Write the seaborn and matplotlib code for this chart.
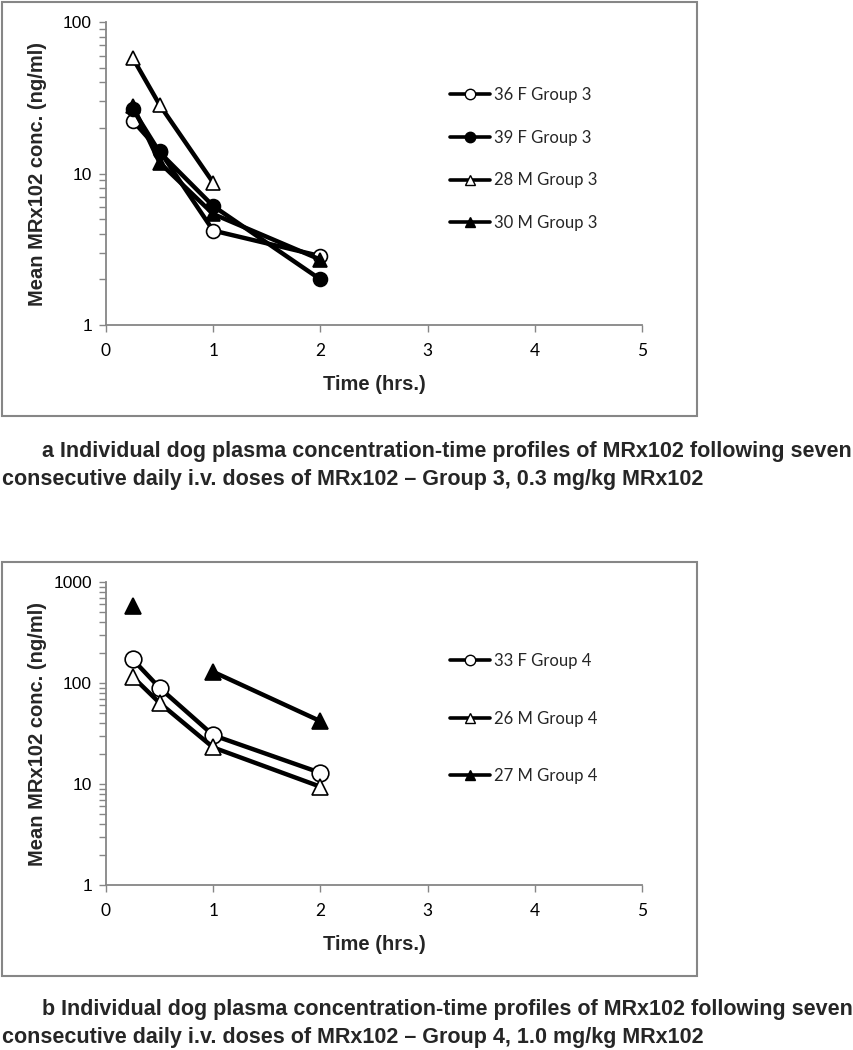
import numpy as np
import pandas as pd
import matplotlib
matplotlib.use("Agg")
import matplotlib.pyplot as plt
from matplotlib.lines import Line2D
from matplotlib.patches import Rectangle
from matplotlib import font_manager
import seaborn as sns

# ---------------- data ----------------
time_hrs = [0.25, 0.5, 1.0, 2.0]

g3_labels = ["36 F Group 3", "39 F Group 3", "28 M Group 3", "30 M Group 3"]
g3_36F = [22.3, 14.1, 4.2, 2.85]
g3_39F = [26.6, 13.8, 6.1, 2.0]
g3_28M = [57.8, 28.4, 8.7, np.nan]
g3_30M = [28.0, 11.8, 5.4, 2.7]

g4_labels = ["33 F Group 4", "26 M Group 4", "27 M Group 4"]
g4_33F = [171, 89.5, 30.4, 12.9]
g4_26M = [115, 63.5, 23.0, 9.4]
g4_27M = [579, np.nan, 129, 41.9]

x_ticks = [0, 1, 2, 3, 4, 5]
g3_yticks = [1, 10, 100]
g4_yticks = [1, 10, 100, 1000]

y_label = "Mean MRx102 conc. (ng/ml)"
x_label = "Time (hrs.)"
caption_a = ["a Individual dog plasma concentration-time profiles of MRx102 following seven",
             "consecutive daily i.v. doses of MRx102 \u2013 Group 3, 0.3 mg/kg MRx102"]
caption_b = ["b Individual dog plasma concentration-time profiles of MRx102 following seven",
             "consecutive daily i.v. doses of MRx102 \u2013 Group 4, 1.0 mg/kg MRx102"]

# ---------------- style ----------------
sns.set_theme(style="white")
avail = {f.name for f in font_manager.fontManager.ttflist}
narrow = "Liberation Sans Narrow" if "Liberation Sans Narrow" in avail else "Liberation Sans"
cap_size = 17 if narrow == "Liberation Sans Narrow" else 15.5
plt.rcParams["font.family"] = ["Liberation Sans", "DejaVu Sans"]

W, H = 854, 1050
fig = plt.figure(figsize=(W / 100, H / 100), dpi=100)
fig.patch.set_facecolor("white")

GREY = "#868686"


def fx(px):
    return px / W


def fy(py):
    return 1 - py / H


def build_frame(series, names):
    rows = []
    for name, vals in zip(names, series):
        seg = 0
        for t, v in zip(time_hrs, vals):
            if v is None or (isinstance(v, float) and np.isnan(v)):
                seg += 1
                continue
            rows.append({"time": t, "conc": v, "animal": name, "seg": seg})
    return pd.DataFrame(rows)


def draw_panel(top_px, series, names, styles, yticks, ymax, msize, legend_top, legend_gap):
    ax_top = top_px + 21
    ax_bot = ax_top + 303
    ax = fig.add_axes([fx(106), fy(ax_bot), fx(642 - 106), (ax_bot - ax_top) / H])
    df = build_frame(series, names)
    handles = []
    for name, (mk, filled) in zip(names, styles):
        sub = df[df["animal"] == name]
        fc = "black" if filled else "white"
        sns.lineplot(data=sub, x="time", y="conc", units="seg", estimator=None,
                     ax=ax, color="black", linewidth=3.2, marker=mk, markersize=msize,
                     markerfacecolor=fc, markeredgecolor="black", markeredgewidth=1.2,
                     legend=False, sort=False)
        handles.append(Line2D([0], [0], color="black", linewidth=2.6, marker=mk,
                              markersize=7.5, markerfacecolor=fc, markeredgecolor="black",
                              markeredgewidth=1.0))
    ax.set_yscale("log")
    ax.set_xlim(0, 5)
    ax.set_ylim(1, ymax)
    ax.set_xticks(x_ticks)
    ax.set_xticklabels([str(v) for v in x_ticks], fontsize=12.5, family=["Lato", "DejaVu Sans"])
    ax.set_yticks(yticks)
    ax.set_yticklabels([str(v) for v in yticks], fontsize=12.5)
    ax.yaxis.set_minor_locator(matplotlib.ticker.LogLocator(base=10, subs=np.arange(2, 10)))
    ax.yaxis.set_minor_formatter(matplotlib.ticker.NullFormatter())
    ax.set_xlabel("")
    ax.set_ylabel("")
    for s in ["top", "right"]:
        ax.spines[s].set_visible(False)
    for s in ["left", "bottom"]:
        ax.spines[s].set_color(GREY)
        ax.spines[s].set_linewidth(1.3)
    ax.tick_params(axis="both", which="both", direction="out", color=GREY, width=1.0,
                   left=True, bottom=True, labelcolor="black")
    ax.tick_params(axis="y", which="major", length=5, pad=5)
    ax.tick_params(axis="y", which="minor", length=5)
    ax.tick_params(axis="x", which="major", length=5, pad=8)
    ax.set_facecolor("none")
    ax.grid(False)

    # axis titles
    fig.text(fx(38), fy((ax_top + ax_bot) / 2), y_label, rotation=90, ha="center",
             va="center", fontsize=14.5, fontweight="bold")
    fig.text(fx(374), fy(ax_bot + 60), x_label, ha="center", va="center",
             fontsize=14.5, fontweight="bold")

    leg = ax.legend(handles, names, loc="upper left",
                    bbox_to_anchor=(fx(450), fy(legend_top)), bbox_transform=fig.transFigure,
                    frameon=False, fontsize=12, handlelength=2.4, handletextpad=0.25,
                    labelspacing=legend_gap, borderpad=0, borderaxespad=0)
    for t in leg.get_texts():
        t.set_family(["Lato", "DejaVu Sans"])

    # outer chart frame
    fig.patches.append(Rectangle((fx(2), fy(top_px + 415)), fx(695), 414 / H,
                                 transform=fig.transFigure, fill=False,
                                 edgecolor=GREY, linewidth=1.5))
    return ax


draw_panel(1, [g3_36F, g3_39F, g3_28M, g3_30M], g3_labels,
           [("o", False), ("o", True), ("^", False), ("^", True)],
           g3_yticks, 100, 10, 87, 1.6)
draw_panel(561, [g4_33F, g4_26M, g4_27M], g4_labels,
           [("o", False), ("^", False), ("^", True)],
           g4_yticks, 1000, 12, 653, 2.5)

for caps, y0 in [(caption_a, 452), (caption_b, 1010)]:
    fig.text(fx(42), fy(y0), caps[0], ha="left", va="center", fontsize=cap_size,
             fontweight="bold", family=[narrow, "DejaVu Sans"])
    fig.text(fx(2), fy(y0 + 27), caps[1], ha="left", va="center", fontsize=cap_size,
             fontweight="bold", family=[narrow, "DejaVu Sans"])

fig.savefig("out.png", dpi=100, facecolor="white")
